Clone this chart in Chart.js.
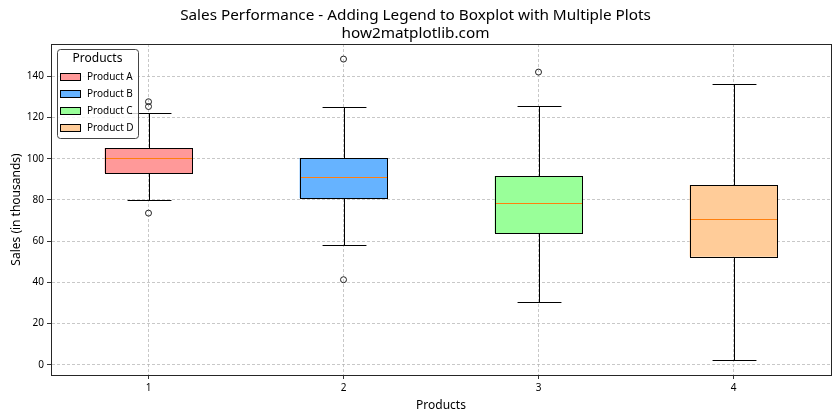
<!DOCTYPE html>
<html>
<head>
<meta charset="utf-8">
<script src="https://cdn.jsdelivr.net/npm/chart.js@4.4.1/dist/chart.umd.min.js"></script>
<style>
  html, body { margin: 0; padding: 0; background: #fff; }
  #wrap { width: 840px; height: 420px; }
</style>
</head>
<body>
<div id="wrap"><canvas id="chart"></canvas></div>
<script>
// ── DATA ────────────────────────────────────────────────
const categories  = ['1', '2', '3', '4'];
const products    = ['Product A', 'Product B', 'Product C', 'Product D'];
const q1          = [93.0, 80.9, 64.0, 52.5];
const q3          = [105.2, 100.3, 91.6, 87.2];
const medians     = [100.3, 91.1, 78.5, 70.7];
const whiskerLow  = [79.9, 58.1, 30.5, 2.4];
const whiskerHigh = [122.2, 125.0, 125.5, 136.1];
const outliers    = [[127.6, 125.3, 73.6], [148.3, 41.3], [142.0], []];
const boxColors   = ['#ff9999', '#66b3ff', '#99ff99', '#ffcc99'];
const yTicks      = [0, 20, 40, 60, 80, 100, 120, 140];

const FONT = "'Noto Sans', 'DejaVu Sans', sans-serif";

// ── WHISKERS, MEDIANS, FRAME, LEGEND ────────────────────
const boxExtras = {
  id: 'boxExtras',
  afterDatasetsDraw(chart) {
    const { ctx } = chart;
    const y = chart.scales.y;
    const meta = chart.getDatasetMeta(0);
    const px = v => Math.round(y.getPixelForValue(v)) + 0.5;
    ctx.save();
    meta.data.forEach((bar, i) => {
      const cx = Math.round(bar.x) + 0.5;
      const half = bar.width / 2;
      const cap = bar.width / 4;
      const left = Math.round(bar.x - half) + 0.5;
      const right = Math.round(bar.x + half) + 0.5;
      const top = px(q3[i]), bot = px(q1[i]);
      ctx.lineWidth = 1;
      ctx.strokeStyle = '#000';
      ctx.beginPath();
      // whiskers + caps
      ctx.moveTo(cx, top); ctx.lineTo(cx, px(whiskerHigh[i]));
      ctx.moveTo(cx, bot); ctx.lineTo(cx, px(whiskerLow[i]));
      ctx.moveTo(cx - cap, px(whiskerHigh[i])); ctx.lineTo(cx + cap, px(whiskerHigh[i]));
      ctx.moveTo(cx - cap, px(whiskerLow[i])); ctx.lineTo(cx + cap, px(whiskerLow[i]));
      ctx.stroke();
      // median
      ctx.strokeStyle = '#ff7f0e';
      ctx.beginPath();
      ctx.moveTo(left, px(medians[i]));
      ctx.lineTo(right, px(medians[i]));
      ctx.stroke();
      // crisp box outline
      ctx.strokeStyle = '#000';
      ctx.strokeRect(left, top, right - left, bot - top);
    });
    ctx.restore();
  },
  afterDraw(chart) {
    const { ctx, chartArea: a } = chart;
    ctx.save();
    // axes frame
    ctx.strokeStyle = '#262626';
    ctx.lineWidth = 1;
    ctx.strokeRect(Math.round(a.left) + 0.5, Math.round(a.top) + 0.5,
                   Math.round(a.right - a.left), Math.round(a.bottom - a.top));

    // legend box
    const lx = Math.round(a.left) + 6, ly = Math.round(a.top) + 5, lw = 81, lh = 89;
    ctx.fillStyle = 'rgba(255,255,255,0.8)';
    ctx.beginPath();
    ctx.roundRect(lx + 0.5, ly + 0.5, lw, lh, 3);
    ctx.fill();
    ctx.strokeStyle = '#444';
    ctx.stroke();

    ctx.fillStyle = '#000';
    ctx.textAlign = 'center';
    ctx.textBaseline = 'middle';
    ctx.font = '12px ' + FONT;
    ctx.fillText('Products', lx + lw / 2, ly + 10);

    ctx.font = '10px ' + FONT;
    ctx.textAlign = 'left';
    products.forEach((p, i) => {
      const ry = ly + 28 + i * 17;
      ctx.fillStyle = boxColors[i];
      ctx.fillRect(lx + 3.5, ry - 3.5, 20, 7);
      ctx.strokeStyle = '#000';
      ctx.strokeRect(lx + 3.5, ry - 3.5, 20, 7);
      ctx.fillStyle = '#000';
      ctx.fillText(p, lx + 30, ry);
    });
    ctx.restore();
  }
};

// ── CHART ───────────────────────────────────────────────
const outlierPoints = [];
outliers.forEach((vals, i) => vals.forEach(v => outlierPoints.push({ x: categories[i], y: v })));

new Chart(document.getElementById('chart'), {
  type: 'bar',
  data: {
    labels: categories,
    datasets: [
      {
        label: 'Boxes',
        data: q1.map((v, i) => [v, q3[i]]),
        backgroundColor: boxColors,
        borderWidth: 0,
        barPercentage: 0.45,
        categoryPercentage: 1.0,
        order: 2
      },
      {
        type: 'line',
        label: 'Outliers',
        data: outlierPoints,
        showLine: false,
        pointRadius: 3,
        pointBorderWidth: 1,
        pointBackgroundColor: 'rgba(0,0,0,0)',
        pointBorderColor: '#222',
        order: 1
      }
    ]
  },
  options: {
    responsive: true,
    maintainAspectRatio: false,
    animation: false,
    events: [],
    layout: { padding: { left: 0, right: 9, top: 0, bottom: 0 } },
    plugins: {
      legend: { display: false },
      tooltip: { enabled: false },
      title: {
        display: true,
        text: ['Sales Performance - Adding Legend to Boxplot with Multiple Plots', 'how2matplotlib.com'],
        color: '#000',
        font: { family: FONT, size: 15.3, weight: 'normal', lineHeight: 1.2 },
        padding: { top: 6, bottom: 1.3 }
      }
    },
    scales: {
      x: {
        offset: true,
        grid: {
          offset: false,
          color: 'rgba(176,176,176,0.7)',
          tickColor: '#333',
          tickLength: 4,
          tickBorderDash: []
        },
        border: { dash: [3, 2], color: '#262626' },
        ticks: { color: '#000', font: { family: FONT, size: 10 }, padding: 3 },
        title: {
          display: true,
          text: 'Products',
          color: '#000',
          font: { family: FONT, size: 12 },
          padding: { top: 2, bottom: 7 }
        },
        afterFit(scale) { scale.height = 45; }
      },
      y: {
        min: -4.9,
        max: 155.6,
        grid: {
          color: 'rgba(176,176,176,0.7)',
          tickColor: '#333',
          tickLength: 4,
          tickBorderDash: []
        },
        border: { dash: [3, 2], color: '#262626' },
        ticks: { color: '#000', font: { family: FONT, size: 10 }, padding: 3 },
        afterBuildTicks(scale) { scale.ticks = yTicks.map(v => ({ value: v })); },
        title: {
          display: true,
          text: 'Sales (in thousands)',
          color: '#000',
          font: { family: FONT, size: 12 },
          padding: { top: 9, bottom: 4 }
        },
        afterFit(scale) { scale.width = 51; }
      }
    }
  },
  plugins: [boxExtras]
});
</script>
</body>
</html>
